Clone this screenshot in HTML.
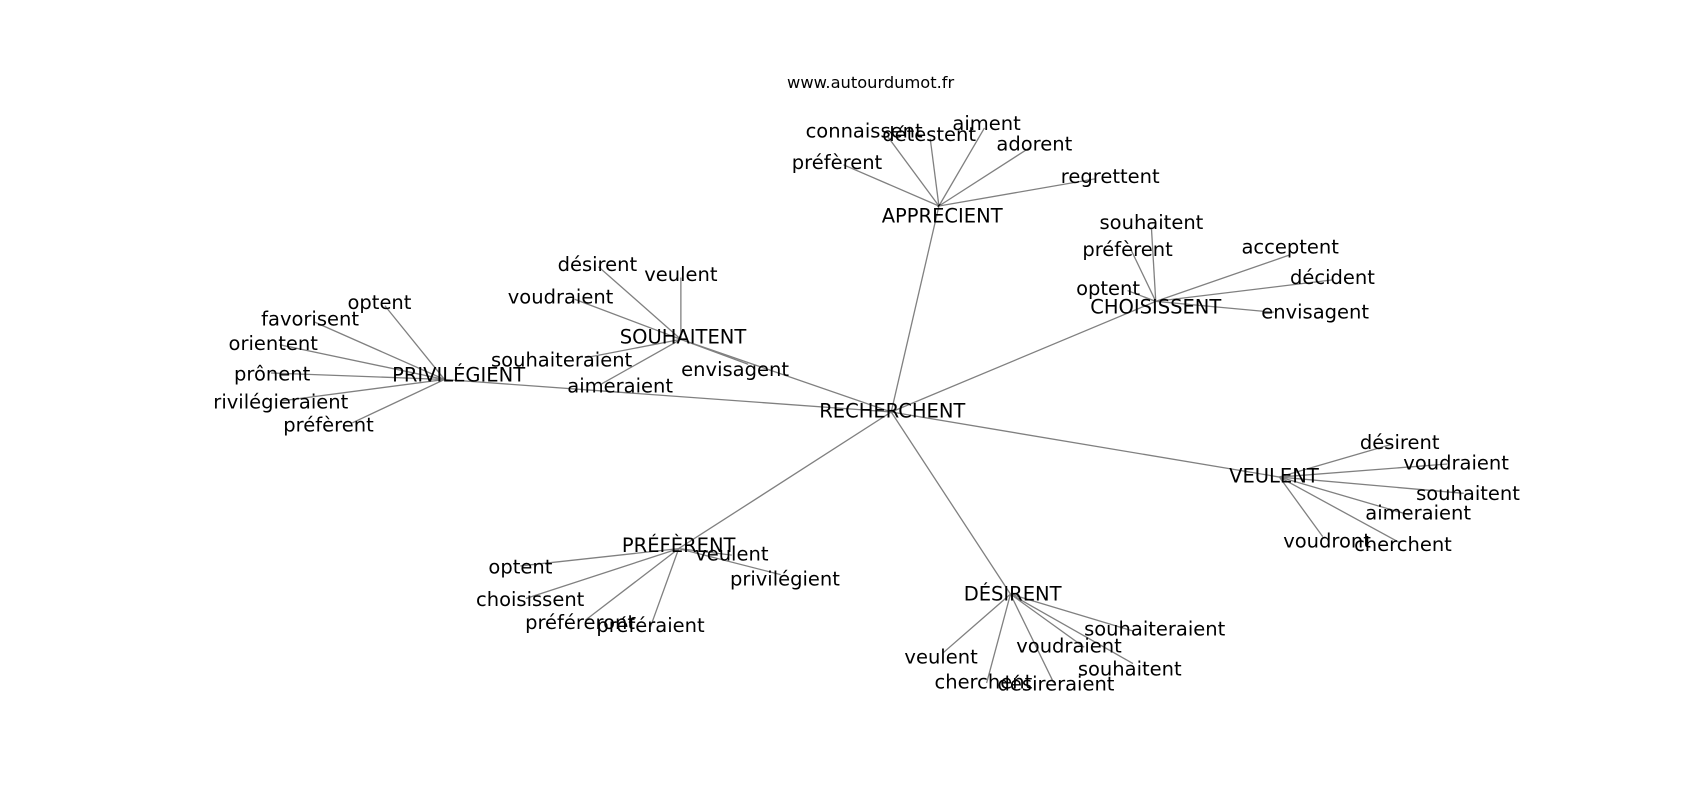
<!DOCTYPE html>
<html><head><meta charset="utf-8"><style>
html,body{margin:0;padding:0;background:#fff}
svg text{font-family:"DejaVu Sans","Liberation Sans",sans-serif;font-size:18px;fill:#000;text-anchor:middle;dominant-baseline:central}
</style></head><body>
<svg width="1700" height="800" xmlns="http://www.w3.org/2000/svg">
<g transform="scale(1.0842)">
<g stroke="#808080" stroke-width="1.2">
<line x1="822" y1="380" x2="866" y2="190"/>
<line x1="822" y1="380" x2="1066" y2="278"/>
<line x1="822" y1="380" x2="1180" y2="440"/>
<line x1="822" y1="380" x2="932" y2="548"/>
<line x1="822" y1="380" x2="626" y2="506"/>
<line x1="822" y1="380" x2="410" y2="350"/>
<line x1="822" y1="380" x2="628" y2="313"/>
<line x1="410" y1="350" x2="355" y2="282"/>
<line x1="410" y1="350" x2="290" y2="297"/>
<line x1="410" y1="350" x2="258" y2="318"/>
<line x1="410" y1="350" x2="250" y2="344"/>
<line x1="410" y1="350" x2="258" y2="370"/>
<line x1="410" y1="350" x2="325" y2="390"/>
<line x1="628" y1="313" x2="552" y2="246"/>
<line x1="628" y1="313" x2="628" y2="256"/>
<line x1="628" y1="313" x2="530" y2="276"/>
<line x1="628" y1="313" x2="540" y2="330"/>
<line x1="628" y1="313" x2="555" y2="354"/>
<line x1="628" y1="313" x2="690" y2="336"/>
<line x1="866" y1="190" x2="818" y2="125"/>
<line x1="866" y1="190" x2="858" y2="128"/>
<line x1="866" y1="190" x2="908" y2="118"/>
<line x1="866" y1="190" x2="950" y2="136"/>
<line x1="866" y1="190" x2="778" y2="152"/>
<line x1="866" y1="190" x2="1010" y2="165"/>
<line x1="1066" y1="278" x2="1062" y2="210"/>
<line x1="1066" y1="278" x2="1043" y2="230"/>
<line x1="1066" y1="278" x2="1040" y2="268"/>
<line x1="1066" y1="278" x2="1190" y2="235"/>
<line x1="1066" y1="278" x2="1230" y2="258"/>
<line x1="1066" y1="278" x2="1175" y2="288"/>
<line x1="1180" y1="440" x2="1283" y2="410"/>
<line x1="1180" y1="440" x2="1335" y2="428"/>
<line x1="1180" y1="440" x2="1350" y2="455"/>
<line x1="1180" y1="440" x2="1300" y2="475"/>
<line x1="1180" y1="440" x2="1220" y2="495"/>
<line x1="1180" y1="440" x2="1290" y2="500"/>
<line x1="932" y1="548" x2="1045" y2="582"/>
<line x1="932" y1="548" x2="1000" y2="597"/>
<line x1="932" y1="548" x2="1045" y2="612"/>
<line x1="932" y1="548" x2="972" y2="630"/>
<line x1="932" y1="548" x2="910" y2="630"/>
<line x1="932" y1="548" x2="870" y2="602"/>
<line x1="626" y1="506" x2="480" y2="522"/>
<line x1="626" y1="506" x2="485" y2="552"/>
<line x1="626" y1="506" x2="540" y2="572"/>
<line x1="626" y1="506" x2="600" y2="578"/>
<line x1="626" y1="506" x2="675" y2="512"/>
<line x1="626" y1="506" x2="720" y2="530"/>
</g>
<text x="803" y="76" style="font-size:15px">www.autourdumot.fr</text>
<text x="823" y="379">RECHERCHENT</text>
<text x="869" y="199">APPRÉCIENT</text>
<text x="1066" y="283">CHOISISSENT</text>
<text x="1175" y="439">VEULENT</text>
<text x="934" y="548">DÉSIRENT</text>
<text x="626" y="503">PRÉFÈRENT</text>
<text x="423" y="346">PRIVILÉGIENT</text>
<text x="630" y="311">SOUHAITENT</text>
<text x="350" y="279">optent</text>
<text x="286" y="294">favorisent</text>
<text x="252" y="317">orientent</text>
<text x="251" y="345">prônent</text>
<text x="259" y="371">rivilégieraient</text>
<text x="303" y="392">préfèrent</text>
<text x="551" y="244">désirent</text>
<text x="628" y="253">veulent</text>
<text x="517" y="274">voudraient</text>
<text x="518" y="332">souhaiteraient</text>
<text x="572" y="356">aimeraient</text>
<text x="678" y="341">envisagent</text>
<text x="797" y="121">connaissent</text>
<text x="857" y="124">détestent</text>
<text x="910" y="114">aiment</text>
<text x="954" y="133">adorent</text>
<text x="772" y="150">préfèrent</text>
<text x="1024" y="163">regrettent</text>
<text x="1062" y="205">souhaitent</text>
<text x="1040" y="230">préfèrent</text>
<text x="1022" y="266">optent</text>
<text x="1190" y="228">acceptent</text>
<text x="1229" y="256">décident</text>
<text x="1213" y="288">envisagent</text>
<text x="1291" y="408">désirent</text>
<text x="1343" y="427">voudraient</text>
<text x="1354" y="455">souhaitent</text>
<text x="1308" y="473">aimeraient</text>
<text x="1224" y="499">voudront</text>
<text x="1294" y="502">cherchent</text>
<text x="1065" y="580">souhaiteraient</text>
<text x="986" y="596">voudraient</text>
<text x="1042" y="617">souhaitent</text>
<text x="974" y="631">désireraient</text>
<text x="907" y="629">cherchent</text>
<text x="868" y="606">veulent</text>
<text x="480" y="523">optent</text>
<text x="489" y="553">choisissent</text>
<text x="535" y="574">préféreront</text>
<text x="600" y="577">préféraient</text>
<text x="675" y="511">veulent</text>
<text x="724" y="534">privilégient</text>
</g>
</svg>
</body></html>
